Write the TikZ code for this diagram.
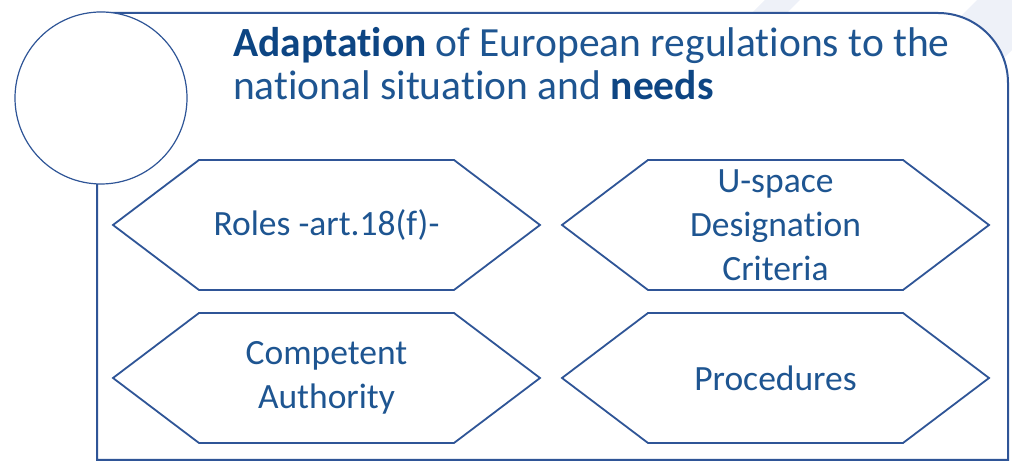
\documentclass[tikz,border=0pt]{standalone}
\usepackage{fontspec}
\setmainfont{Carlito}[Ligatures=NoCommon]
\usepackage{tikz}
\usetikzlibrary{positioning,calc}

\definecolor{lineblue}{HTML}{2F5597}
\definecolor{textblue}{HTML}{1E5591}
\definecolor{boldblue}{HTML}{0D4583}
\definecolor{stripegray}{HTML}{EEF1F8}

\tikzset{
  frame/.style={draw=lineblue, line width=2pt, fill=white},
  hexline/.style={draw=lineblue, line width=1.8pt},
  title/.style={anchor=base west, inner sep=0, text=textblue, font=\fontsize{41.5}{44}\selectfont},
  hextext/.style={align=center, inner sep=0, text=textblue, font=\fontsize{35.5}{44}\selectfont}
}

\begin{document}
\begin{tikzpicture}[x=1pt, y=1pt]
        \useasboundingbox (0, 0) rectangle (1012, 462);

        % faint stripes behind the frame
        \fill[stripegray] (765, 462) -- (800, 462) -- (740, 402) -- (705, 402) -- cycle;
        \fill[stripegray] (977, 462) -- (1012, 462) -- (1012, 412) -- (962, 362) -- (877, 362) -- cycle;

        \coordinate (frame-sw) at (97, 2);
        \coordinate (frame-nw) at (97, 449);
        \coordinate (frame-se) at (1008, 2);
        \draw[frame] (frame-sw) -- (frame-nw) -- (938, 449) arc[start angle=90, end angle=0, radius=70] -- (frame-se) -- cycle;

        \node[circle, draw=lineblue, line width=1.2pt, fill=white, minimum size=172pt, inner sep=0] (badge) at (101, 364) {};

        \node[title] (title-top) at (233, 405) {\textbf{\color{boldblue}Adaptation} of European regulations to the};
        \node[title] (title-bottom) at (233, 362) {national situation and \textbf{\color{boldblue}needs}};

        \coordinate (roles-c) at (326.5, 237);
        \coordinate[right = 449pt of roles-c] (criteria-c);
        \coordinate[below = 153pt of roles-c] (authority-c);
        \coordinate[below = 153pt of criteria-c] (procedures-c);

        \foreach \hex in {roles-c, criteria-c, authority-c, procedures-c}
          \draw[hexline] ($(\hex)+(-213.5, 0)$) -- ++(86, 65) -- ++(255, 0) -- ++(86, -65) -- ++(-86, -65) -- ++(-255, 0) -- cycle;

        \node[hextext] (roles) at (roles-c) {Roles -art.18(f)-};
        \node[hextext] (criteria) at (criteria-c) {U-space\\Designation\\Criteria};
        \node[hextext] (authority) at (authority-c) {Competent\\Authority};
        \node[hextext] (procedures) at (procedures-c) {Procedures};
      \end{tikzpicture}
\end{document}
